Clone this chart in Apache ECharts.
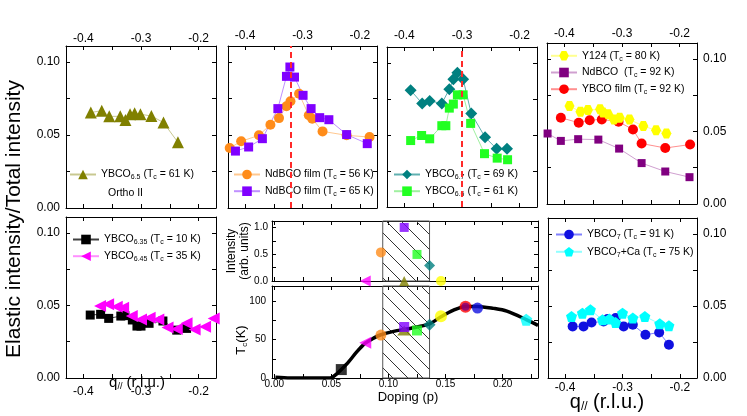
<!DOCTYPE html>
<html>
<head>
<meta charset="utf-8">
<script src="https://cdn.jsdelivr.net/npm/echarts@6/dist/echarts.min.js"></script>
<style>html,body{margin:0;padding:0;background:#fff}#chart{width:747px;height:416px}</style>
</head>
<body>
<div id="chart"></div>
<script>
const FONT = 'Liberation Sans, Arial, Helvetica, sans-serif';

// tick labels
const qTickLabels = [-0.4, -0.3, -0.2];
const ratioLabels = [0, 0.05, 0.1];
const dopingLabels = [0, 0.05, 0.1, 0.15, 0.2];
const tcLabels = [0, 50, 100];
const intLabels = [0, 0.5, 1.0];

// q// (r.l.u.) vs elastic/total intensity, one pair per sample
const qY65 = [-0.387, -0.368, -0.355, -0.336, -0.327, -0.319, -0.311, -0.301, -0.282, -0.261, -0.236];
const rY65 = [0.0654, 0.0667, 0.0628, 0.0628, 0.0603, 0.0642, 0.0649, 0.0642, 0.0631, 0.0585, 0.045];

const qNd56 = [-0.427, -0.407, -0.376, -0.356, -0.341, -0.328, -0.321, -0.306, -0.289, -0.283, -0.265, -0.223, -0.183];
const rNd56 = [0.0411, 0.0457, 0.0498, 0.0571, 0.0616, 0.0697, 0.0731, 0.0783, 0.0635, 0.0612, 0.0525, 0.0498, 0.0486];
const qNd65 = [-0.417, -0.394, -0.370, -0.343, -0.328, -0.322, -0.314, -0.299, -0.285, -0.270, -0.254, -0.223, -0.187];
const rNd65 = [0.039, 0.0418, 0.0475, 0.0681, 0.0902, 0.0966, 0.0897, 0.0772, 0.0681, 0.0619, 0.0605, 0.0503, 0.0441];

const qY67 = [-0.389, -0.369, -0.356, -0.335, -0.322, -0.315, -0.308, -0.298, -0.284, -0.260, -0.240, -0.222];
const rY67 = [0.081, 0.0718, 0.0736, 0.0718, 0.0817, 0.0886, 0.0931, 0.0886, 0.0649, 0.0484, 0.0404, 0.0404];
const qY66 = [-0.389, -0.370, -0.356, -0.335, -0.328, -0.322, -0.315, -0.308, -0.298, -0.285, -0.261, -0.239, -0.221];
const rY66 = [0.0461, 0.0496, 0.0473, 0.0564, 0.0564, 0.0686, 0.0714, 0.0778, 0.0778, 0.058, 0.037, 0.0339, 0.0328];

const qY124 = [-0.391, -0.372, -0.359, -0.338, -0.333, -0.324, -0.314, -0.304, -0.287, -0.263, -0.241, -0.223];
const rY124 = [0.0676, 0.0636, 0.0648, 0.0653, 0.063, 0.0618, 0.0583, 0.0595, 0.0583, 0.0537, 0.0509, 0.0486];
const qNd92 = [-0.429, -0.406, -0.376, -0.341, -0.305, -0.266, -0.225, -0.183];
const rNd92 = [0.0486, 0.0435, 0.0447, 0.0444, 0.0382, 0.0282, 0.0224, 0.0185];
const qFilm = [-0.406, -0.375, -0.356, -0.335, -0.306, -0.281, -0.266, -0.225, -0.182];
const rFilm = [0.0595, 0.056, 0.0578, 0.0583, 0.0567, 0.0514, 0.0417, 0.0386, 0.041];

const qY635 = [-0.388, -0.370, -0.356, -0.335, -0.328, -0.315, -0.307, -0.300, -0.286, -0.262, -0.238, -0.221];
const rY635 = [0.0434, 0.0439, 0.0411, 0.0427, 0.043, 0.04, 0.0358, 0.0358, 0.0377, 0.0393, 0.033, 0.0342];
const qY645 = [-0.371, -0.357, -0.342, -0.331, -0.316, -0.300, -0.285, -0.270, -0.254, -0.238, -0.221, -0.207, -0.189, -0.174];
const rY645 = [0.0497, 0.0508, 0.0492, 0.0485, 0.0427, 0.0404, 0.0416, 0.0404, 0.0349, 0.0337, 0.0377, 0.0335, 0.0353, 0.0411];

const qY7 = [-0.387, -0.368, -0.354, -0.333, -0.326, -0.312, -0.298, -0.282, -0.260, -0.236, -0.219];
const rY7 = [0.0358, 0.0358, 0.0385, 0.0392, 0.0409, 0.0416, 0.0358, 0.0369, 0.03, 0.0316, 0.0231];
const qY7Ca = [-0.389, -0.370, -0.356, -0.335, -0.323, -0.312, -0.300, -0.282, -0.261, -0.235, -0.219];
const rY7Ca = [0.0427, 0.045, 0.0473, 0.0404, 0.0409, 0.0385, 0.045, 0.0416, 0.0427, 0.0376, 0.0362];

// doping panels
const domeP = [0.001, 0.014, 0.049, 0.055, 0.0587, 0.0651, 0.0724, 0.0797, 0.087, 0.0934, 0.1045, 0.1162, 0.125, 0.136, 0.146, 0.157, 0.1675, 0.178, 0.192, 0.2037, 0.2207, 0.231];
const domeTc = [1, 0, 0, 5.8, 11, 21, 34.3, 45.4, 52, 56.4, 60.8, 63.9, 66.5, 70.5, 79.8, 88.5, 93.4, 93.4, 90.8, 87.2, 76.2, 68.7];
// YBCO6.35, 6.45, NdBCO 56K, YBCO6.5, NdBCO 65K, YBCO6.6, YBCO6.7, Y124, YBCO film, NdBCO 92K, YBCO7, YBCO7+Ca
const tcP = [0.0587, 0.0797, 0.0934, 0.1138, 0.1138, 0.125, 0.136, 0.146, 0.1675, 0.1675, 0.178, 0.2207];
const tcK = [11, 46, 56, 62, 66.5, 62, 69.6, 80.6, 93, 93, 91.2, 76];
// YBCO6.45, NdBCO 56K, YBCO6.5, NdBCO 65K, YBCO6.6, YBCO6.7, Y124
const intP = [0.0797, 0.0934, 0.1138, 0.1138, 0.125, 0.136, 0.146];
const intV = [0, 0.534, 0, 1.0, 0.496, 0.289, 0];
const hatchFrom = 0.095, hatchTo = 0.136;
const cdwQ2 = -0.32, cdwQ3 = -0.303;

const HEX = 'path://M-1,0 L-0.5,-0.866 L0.5,-0.866 L1,0 L0.5,0.866 L-0.5,0.866 Z';
const PENT = 'path://M0,-1 L0.951,-0.309 L0.588,0.809 L-0.588,0.809 L-0.951,-0.309 Z';

const sty = {
  Y65: {symbol: 'triangle', size: 12, color: '#808000', line: '#c8c890'},
  Nd56: {symbol: 'circle', size: 10, color: '#ff8c1a', line: '#ffc890'},
  Nd65: {symbol: 'rect', size: 9, color: '#8000ff', line: '#c090ff'},
  Y67: {symbol: 'diamond', size: 12, color: '#008080', line: '#60b0b0'},
  Y66: {symbol: 'rect', size: 9, color: '#22ff22', line: '#a0f0a0'},
  Y124: {symbol: HEX, size: 10, color: '#ffff00', line: '#ffff90'},
  Nd92: {symbol: 'rect', size: 8, color: '#800080', line: '#d0a0d0'},
  Film: {symbol: 'circle', size: 10, color: '#ff0000', line: '#ff9090'},
  Y635: {symbol: 'rect', size: 9, color: '#000000', line: '#404040'},
  Y645: {symbol: 'triangle', rotate: 90, size: 12, color: '#ff00ff', line: '#ff90ff'},
  Y7: {symbol: 'circle', size: 10, color: '#1010e0', line: '#8080ff'},
  Y7Ca: {symbol: PENT, size: 11, color: '#00ffff', line: '#90ffff'}
};

const names = {
  Y65: 'YBCO{s|6.5} (T{s|c} = 61 K)',
  Nd56: 'NdBCO film (T{s|c} = 56 K)',
  Nd65: 'NdBCO film (T{s|c} = 65 K)',
  Y67: 'YBCO{s|6.7} (T{s|c} = 69 K)',
  Y66: 'YBCO{s|6.6} (T{s|c} = 61 K)',
  Y124: 'Y124 (T{s|c} = 80 K)',
  Nd92: 'NdBCO  (T{s|c} = 92 K)',
  Film: 'YBCO film (T{s|c} = 92 K)',
  Y635: 'YBCO{s|6.35} (T{s|c} = 10 K)',
  Y645: 'YBCO{s|6.45} (T{s|c} = 35 K)',
  Y7: 'YBCO{s|7} (T{s|c} = 91 K)',
  Y7Ca: 'YBCO{s|7}+Ca (T{s|c} = 75 K)'
};

const tcStyle = [
  {symbol: 'rect', size: 11, color: '#000'},
  {symbol: 'triangle', rotate: 90, size: 12, color: '#ff00ff'},
  {symbol: 'circle', size: 11, color: '#ff8c1a'},
  {symbol: 'triangle', size: [14, 10], color: '#808000'},
  {symbol: 'rect', size: 10, color: '#8000ff'},
  {symbol: 'rect', size: 10, color: '#22ff22'},
  {symbol: 'diamond', size: 12, color: '#008080'},
  {symbol: 'circle', size: 12, color: '#ffff00'},
  {symbol: 'circle', size: 12, color: '#ff0000'},
  {symbol: 'circle', size: 8, color: '#800080'},
  {symbol: 'circle', size: 11, color: '#1010e0'},
  {symbol: PENT, size: 12, color: '#00ffff'}
];
const intStyle = [
  {symbol: 'triangle', rotate: 90, size: 11, color: '#ff00ff'},
  {symbol: 'circle', size: 10, color: '#ff8c1a'},
  {symbol: 'triangle', size: 10, color: '#808000'},
  {symbol: 'rect', size: 9, color: '#8000ff'},
  {symbol: 'rect', size: 9, color: '#22ff22'},
  {symbol: 'diamond', size: 11, color: '#008080'},
  {symbol: 'circle', size: 10, color: '#ffff00'}
];

const grids = [
  {left: 66, top: 46, width: 150, height: 162},
  {left: 228, top: 46, width: 149, height: 162},
  {left: 387, top: 47, width: 150, height: 160},
  {left: 547, top: 43, width: 150, height: 161},
  {left: 66, top: 217, width: 150, height: 161},
  {left: 272, top: 221, width: 266, height: 60},
  {left: 272, top: 286, width: 266, height: 92},
  {left: 548, top: 218, width: 149, height: 160}
];

const kinds = {
  q: {min: -0.43, max: -0.17, step: 0.05, labels: qTickLabels, digits: 1, size: 12},
  r: {min: 0, max: 0.111, step: 0.025, labels: ratioLabels, digits: 2, size: 12},
  p: {min: -0.002, max: 0.231, step: 0.025, labels: dopingLabels, digits: 2, size: 10},
  tc: {min: 0, max: 120, step: 25, labels: tcLabels, digits: 0, size: 10},
  int: {min: 0, max: 1.12, step: 0.25, labels: intLabels, digits: 1, size: 10}
};

// x kind, y kind, which side has labels, label margins
const axisCfg = [
  {x: 'q', y: 'r', xLab: 'top', yLab: 'left', xm: 1.5, ym: 6},
  {x: 'q', y: 'r', xLab: 'top', yLab: null, xm: 4.5, ym: 6},
  {x: 'q', y: 'r', xLab: 'top', yLab: null, xm: 5.5, ym: 6},
  {x: 'q', y: 'r', xLab: 'top', yLab: 'right', xm: 3.5, ym: 6},
  {x: 'q', y: 'r', xLab: 'bottom', yLab: 'left', xm: 8, ym: 6},
  {x: 'p', y: 'int', xLab: null, yLab: 'left', xm: 2, ym: 4},
  {x: 'p', y: 'tc', xLab: 'bottom', yLab: 'left', xm: 1, ym: 6},
  {x: 'q', y: 'r', xLab: 'bottom', yLab: 'right', xm: 4, ym: 6}
];

function fmtFrom(k) {
  return v => k.labels.some(t => Math.abs(t - v) < 1e-7) ? v.toFixed(k.digits) : '';
}

function axis(gi, kindName, pos, showLabel, margin) {
  const k = kinds[kindName];
  return {
    type: 'value', gridIndex: gi, position: pos,
    min: k.min, max: k.max, minInterval: k.step, maxInterval: k.step,
    axisLine: {show: true, onZero: false, lineStyle: {color: '#000', width: 1}},
    axisTick: {show: true, inside: true, length: 4, lineStyle: {color: '#000', width: 1}},
    axisLabel: {show: showLabel, formatter: fmtFrom(k), color: '#000', fontSize: k.size, fontFamily: FONT, margin: margin},
    splitLine: {show: false}
  };
}

const xAxes = [], yAxes = [];
axisCfg.forEach((c, gi) => {
  xAxes.push(axis(gi, c.x, 'bottom', c.xLab === 'bottom', c.xm));
  xAxes.push(axis(gi, c.x, 'top', c.xLab === 'top', c.xm));
  yAxes.push(axis(gi, c.y, 'left', c.yLab === 'left', c.ym));
  yAxes.push(axis(gi, c.y, 'right', c.yLab === 'right', c.ym));
});

function qSeries(key, gi, xs, ys, extra) {
  const s = sty[key];
  return Object.assign({
    type: 'line', name: key, xAxisIndex: 2 * gi, yAxisIndex: 2 * gi,
    data: xs.map((x, i) => [x, ys[i]]),
    symbol: s.symbol, symbolSize: s.size, symbolRotate: s.rotate || 0,
    itemStyle: {color: s.color},
    lineStyle: {color: s.line, width: 1},
    emphasis: {disabled: true}
  }, extra || {});
}

function cdwLine(q) {
  return {
    silent: true, symbol: ['none', 'none'], label: {show: false},
    lineStyle: {color: '#ff2a2a', type: [6, 4], width: 2},
    data: [{xAxis: q}]
  };
}

// diagonal hatch lines clipped to one box
function hatchBox(x0, x1, y0, y1, out) {
  const step = 15;
  for (let c = Math.floor((y0 - x1) / step) * step; c <= y1 - x0; c += step) {
    const xs = Math.max(x0, y0 - c), xe = Math.min(x1, y1 - c);
    if (xe > xs) {
      out.push({type: 'line', shape: {x1: xs, y1: xs + c, x2: xe, y2: xe + c},
        style: {stroke: '#333', lineWidth: 1}});
    }
  }
  out.push({type: 'rect', shape: {x: x0, y: y0, width: x1 - x0, height: y1 - y0},
    style: {fill: 'none', stroke: '#555', lineWidth: 1}});
}

// hatched doping window in the Tc panel
const hatchSeries = {
  type: 'custom', xAxisIndex: 12, yAxisIndex: 12, z: 1, silent: true, clip: false,
  data: [[hatchFrom, hatchTo]],
  renderItem: (params, api) => {
    const a = api.coord([api.value(0), kinds.tc.max]);
    const b = api.coord([api.value(1), kinds.tc.min]);
    const children = [];
    hatchBox(Math.min(a[0], b[0]), Math.max(a[0], b[0]), Math.min(a[1], b[1]), Math.max(a[1], b[1]), children);
    return {type: 'group', children: children};
  }
};

const intSeries = {
  type: 'scatter', name: 'int', xAxisIndex: 10, yAxisIndex: 10, z: 120,
  data: intP.map((p, i) => ({
    value: [p, intV[i]], symbol: intStyle[i].symbol, symbolSize: intStyle[i].size,
    symbolRotate: intStyle[i].rotate || 0, itemStyle: {color: intStyle[i].color}
  }))
};

const series = [
  qSeries('Y65', 0, qY65, rY65),
  qSeries('Nd56', 1, qNd56, rNd56, {markLine: cdwLine(cdwQ2)}),
  qSeries('Nd65', 1, qNd65, rNd65),
  qSeries('Y67', 2, qY67, rY67, {markLine: cdwLine(cdwQ3)}),
  qSeries('Y66', 2, qY66, rY66),
  qSeries('Nd92', 3, qNd92, rNd92),
  qSeries('Film', 3, qFilm, rFilm),
  qSeries('Y124', 3, qY124, rY124),
  qSeries('Y635', 4, qY635, rY635),
  qSeries('Y645', 4, qY645, rY645),
  qSeries('Y7', 7, qY7, rY7),
  qSeries('Y7Ca', 7, qY7Ca, rY7Ca),
  hatchSeries,
  intSeries,
  {
    type: 'line', name: 'dome', xAxisIndex: 12, yAxisIndex: 12, z: 2,
    data: domeP.map((p, i) => [p, domeTc[i]]),
    symbol: 'none', smooth: 0.3, lineStyle: {color: '#000', width: 3.5}
  },
  {
    type: 'scatter', name: 'tc', xAxisIndex: 12, yAxisIndex: 12, z: 3,
    data: tcP.map((p, i) => ({
      value: [p, tcK[i]], symbol: tcStyle[i].symbol, symbolSize: tcStyle[i].size,
      symbolRotate: tcStyle[i].rotate || 0, itemStyle: {color: tcStyle[i].color}
    }))
  }
];

const richSub = {s: {fontSize: 7, fontFamily: FONT, color: '#000', padding: [6, 0, 0, 0]}};
function legendItem(key, left, centerY) {
  return {
    data: [key], left: left, top: centerY - 7, padding: 0, itemWidth: 26, itemHeight: 12,
    selectedMode: false, formatter: n => names[n],
    textStyle: {fontSize: 10.5, fontFamily: FONT, color: '#000', rich: richSub}
  };
}
const legends = [
  legendItem('Y65', 69, 176),
  legendItem('Nd56', 233, 176), legendItem('Nd65', 233, 192.7),
  legendItem('Y67', 393, 176), legendItem('Y66', 393, 192.7),
  legendItem('Y124', 550, 57.3), legendItem('Nd92', 550, 74), legendItem('Film', 550, 90.7),
  legendItem('Y635', 72, 241), legendItem('Y645', 72, 257.7),
  legendItem('Y7', 555, 236), legendItem('Y7Ca', 555, 253.3)
];

function label(text, x, y, size, rot, align) {
  return {
    type: 'text', x: x, y: y, rotation: rot ? Math.PI / 2 : 0, silent: true,
    style: {
      text: text, fill: '#000', fontSize: size, fontFamily: FONT,
      align: align || 'center', verticalAlign: 'middle',
      rich: {s: {fontSize: Math.round(size * 0.6), fontFamily: FONT, fill: '#000', padding: [Math.round(size * 0.5), 0, 0, 0]}}
    }
  };
}

const graphics = [
  label('Elastic intensity/Total intensity', 14, 219, 21, true),
  label('Intensity', 232, 251, 12, true),
  label('(arb. units)', 245, 251, 12, true),
  label('T{s|c}(K)', 241, 340, 13, true),
  label('Doping (p)', 408, 397, 13, false),
  label('q{s|//} (r.l.u.)', 137, 383, 15, false),
  label('q{s|//} (r.l.u.)', 607, 402, 20, false),
  label('Ortho II', 108, 193, 10.5, false, 'left')
];

const chart = echarts.init(document.getElementById('chart'));
chart.setOption({
  animation: false,
  backgroundColor: '#fff',
  grid: grids.map(g => Object.assign({outerBoundsMode: 'none', containLabel: false}, g)),
  xAxis: xAxes,
  yAxis: yAxes,
  legend: legends,
  series: series,
  graphic: graphics
});

// hatch for the intensity panel, placed through that panel's own axes
const finder = {seriesIndex: series.indexOf(intSeries)};
const pA = chart.convertToPixel(finder, [hatchFrom, kinds.int.max]);
const pB = chart.convertToPixel(finder, [hatchTo, kinds.int.min]);
const intHatch = [];
if (pA && pB) {
  hatchBox(Math.min(pA[0], pB[0]), Math.max(pA[0], pB[0]), Math.min(pA[1], pB[1]), Math.max(pA[1], pB[1]), intHatch);
}
chart.setOption({
  graphic: graphics.concat(intHatch.map(el => Object.assign({z: 100, silent: true}, el)))
});
</script>
</body>
</html>
